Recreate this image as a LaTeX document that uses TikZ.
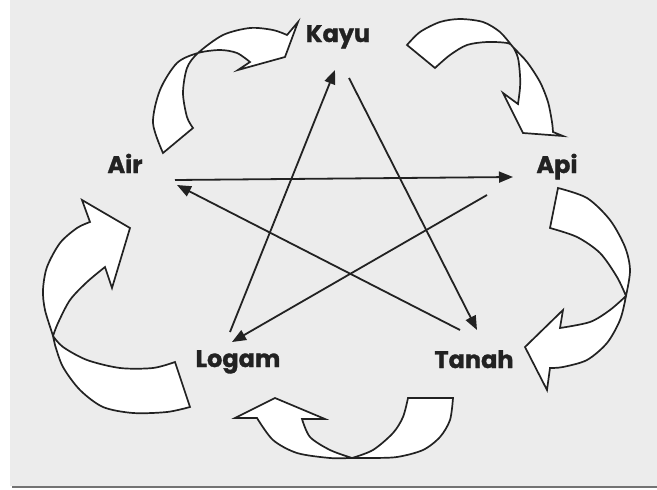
\documentclass[tikz,border=0pt]{standalone}
\usepackage{fontspec}
\usetikzlibrary{arrows.meta}
\newfontfamily\lblfont{Poppins}[BoldFeatures={FakeBold=1.2}]
\definecolor{ink}{HTML}{222222}
\definecolor{paper}{HTML}{ECECEC}
\tikzset{
  lbl/.style={font=\lblfont\bfseries\fontsize{24}{24}\selectfont, text=ink, inner sep=0pt, anchor=base},
  starline/.style={draw=ink, line width=1.8pt, -{Triangle[length=14pt,width=11pt]}},
  ribbon/.style={draw=ink, line width=1.7pt, fill=white, line join=miter},
}
\begin{document}
\begin{tikzpicture}[x=1pt,y=-1pt]
\useasboundingbox (0,0) rectangle (657,490);
\fill[white] (0,0) rectangle (657,490);
\fill[paper] (10,0) rectangle (657,486);
\draw[black!55, line width=1.5pt] (12,487) -- (657,487);

% labels
\node[lbl] (kayu)  at (338,42)  {Kayu};
\node[lbl] (air)   at (125,173) {Air};
\node[lbl] (api)   at (557,173) {Api};
\node[lbl] (logam) at (238,367) {Logam};
\node[lbl] (tanah) at (474,368) {Tanah};

% star connector end points
\coordinate (kayuIn)   at (335,70);
\coordinate (kayuOut)  at (349,78);
\coordinate (airIn)    at (177,185);
\coordinate (airOut)   at (175,180);
\coordinate (apiIn)    at (513,177);
\coordinate (apiOut)   at (487,195);
\coordinate (logamIn)  at (232,342);
\coordinate (logamOut) at (230,332);
\coordinate (tanahIn)  at (477,330);
\coordinate (tanahOut) at (460,330);

\draw[starline] (logamOut) -- (kayuIn);
\draw[starline] (kayuOut) -- (tanahIn);
\draw[starline] (airOut) -- (apiIn);
\draw[starline] (apiOut) -- (logamIn);
\draw[starline] (tanahOut) -- (airIn);

% curved ribbon arrows
% Air -> Kayu
\draw[ribbon] plot[smooth] coordinates {(163,153) (153,123) (160,90) (177,63) (198,53) (220,50) (237,53) (250,62)}
  -- (238,70) -- (285,57) -- (298,22) -- (287,35)
  -- plot[smooth] coordinates {(287,35) (273,30) (250,28) (223,35) (198,53) (187,68) (183,93) (187,117) (193,128)}
  -- cycle;
% Kayu -> Api
\draw[ribbon] plot[smooth] coordinates {(407,45) (420,32) (440,22) (460,19) (483,22) (500,32) (513,47) (527,62) (540,82) (548,102) (552,122) (553,132)}
  -- (563,136) -- (523,133) -- (503,93) -- (518,104)
  -- plot[smooth] coordinates {(518,104) (520,88) (520,75) (518,58) (513,47) (507,43) (487,42) (467,45) (450,55) (435,68)}
  -- cycle;
% Api -> Tanah
\draw[ribbon] plot[smooth] coordinates {(558,188) (587,198) (610,220) (625,247) (630,270) (626,296) (620,320) (607,343) (587,360) (563,367) (550,368)}
  -- (547,390) -- (525,347) -- (563,310) -- (560,328)
  -- plot[smooth] coordinates {(560,328) (590,322) (610,310) (626,296)}
  -- plot[smooth] coordinates {(626,296) (617,277) (600,253) (577,237) (550,228)}
  -- cycle;
% Tanah -> Logam
\draw[ribbon] plot[smooth] coordinates {(453,398) (450,420) (440,437) (423,450) (397,457) (370,458) (352,458) (330,458) (297,453) (273,440) (257,418)}
  -- (235,418) -- (275,398) -- (325,419) -- (302,419)
  -- plot[smooth] coordinates {(302,419) (310,437) (330,450) (352,458)}
  -- plot[smooth] coordinates {(352,458) (373,450) (393,433) (403,417) (408,398)}
  -- cycle;
% Logam -> Air
\draw[ribbon] plot[smooth] coordinates {(190,407) (167,412) (133,413) (103,407) (80,390) (63,367) (55,345) (53,336) (45,310) (43,290) (47,267) (60,243) (77,228) (90,222)}
  -- (82,200) -- (130,228) -- (112,288) -- (105,267)
  -- plot[smooth] coordinates {(105,267) (87,282) (70,300) (58,323) (53,336)}
  -- plot[smooth] coordinates {(53,336) (63,347) (87,360) (120,368) (153,368) (175,362)}
  -- cycle;
\end{tikzpicture}
\end{document}
